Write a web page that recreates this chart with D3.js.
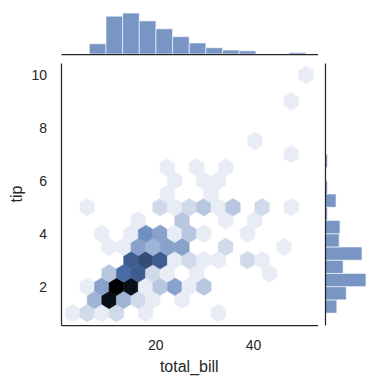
<!DOCTYPE html>
<html><head><meta charset="utf-8">
<script src="https://cdn.jsdelivr.net/npm/d3@7"></script>
<style>
html,body{margin:0;padding:0;background:#fff;}
svg{display:block;font-family:"Liberation Sans",Arial,sans-serif;}
</style></head><body>
<svg id="chart" width="379" height="384"></svg>
<script>
// ---- data ----
const xLabel = "total_bill";
const yLabel = "tip";
const xTicks = [20, 40];
const yTicks = [2, 4, 6, 8, 10];
const billExtent = [3.07, 50.81];
const tipExtent = [1, 10];
const hexGridX = 16, hexGridY = 9;
// marginal histogram of total_bill (14 bins over billExtent)
const billHistCounts = [0, 13, 48, 52, 42, 32, 22, 14, 8, 5, 4, 0, 0, 2];
// marginal histogram of tip (bins of 0.5 from 1 to 10)
const tipBinWidth = 0.5;
const tipHistCounts = [15, 27, 52, 23, 47, 18, 19, 3, 14, 3, 0, 3, 0, 0, 0, 0, 0, 0];
// hexbin cells: grid column (x.5 = offset lattice), tip row, count
const hexCol = [
  0, 1, 2, 3, 5, 10,
  1.5, 2.5, 3.5, 4.5, 5.5, 7.5,
  1, 2, 3, 4, 5, 6, 7, 8, 9,
  2.5, 3.5, 4.5, 5.5, 6.5, 8.5, 13.5,
  4, 5, 6, 7, 8, 9, 10, 12, 13,
  2.5, 3.5, 4.5, 5.5, 6.5, 7.5, 10.5, 14.5,
  2, 4, 5, 6, 7, 8, 9, 12,
  4.5, 7.5, 10.5, 12.5,
  1, 6, 7, 8, 9, 10, 11, 13, 15,
  6.5, 9.5,
  7, 9, 10,
  6.5, 8.5, 10.5,
  15, 12.5, 15, 16
];
const hexTip = [
  1, 1, 1, 1, 1, 1,
  1.5, 1.5, 1.5, 1.5, 1.5, 1.5,
  2, 2, 2, 2, 2, 2, 2, 2, 2,
  2.5, 2.5, 2.5, 2.5, 2.5, 2.5, 2.5,
  3, 3, 3, 3, 3, 3, 3, 3, 3,
  3.5, 3.5, 3.5, 3.5, 3.5, 3.5, 3.5, 3.5,
  4, 4, 4, 4, 4, 4, 4, 4,
  4.5, 4.5, 4.5, 4.5,
  5, 5, 5, 5, 5, 5, 5, 5, 5,
  5.5, 5.5,
  6, 6, 6,
  6.5, 6.5, 6.5,
  7, 7.5, 9, 10
];
const hexCount = [
  1, 2, 1, 2, 1, 1,
  4, 14, 4, 2, 1, 1,
  1, 5, 15, 14, 1, 3, 5, 1, 3,
  3, 8, 9, 2, 1, 1, 1,
  9, 10, 9, 1, 2, 1, 1, 2, 1,
  1, 1, 5, 4, 5, 5, 2, 1,
  1, 1, 6, 5, 1, 3, 1, 1,
  1, 3, 1, 1,
  1, 2, 1, 2, 3, 1, 3, 2, 1,
  1, 1,
  1, 1, 1,
  1, 1, 1,
  1, 1, 1, 1
];

// ---- layout ----
const main = {left: 61, right: 317.5, top: 63, bottom: 325};
const margTop = {top: 2, bottom: 54};
const margRight = {left: 325, right: 377};
const ink = "#262626";
const barFill = "#4c72b0";

const svg = d3.select("#chart");

const pad = f => (billExtent[1] - billExtent[0]) * f;
const x = d3.scaleLinear()
  .domain([billExtent[0] - pad(0.05), billExtent[1] + pad(0.05)])
  .range([main.left, main.right]);
const tpad = (tipExtent[1] - tipExtent[0]) * 0.05;
const y = d3.scaleLinear()
  .domain([tipExtent[0] - tpad, tipExtent[1] + tpad])
  .range([main.bottom, main.top]);

// hexbin geometry (matplotlib style pointy hexagons)
const sx = (billExtent[1] - billExtent[0]) / hexGridX;
const sy = (tipExtent[1] - tipExtent[0]) / hexGridY;
const hexOffsets = [[.5, -.5], [.5, .5], [0, 1], [-.5, .5], [-.5, -.5], [0, -1]];
const maxCount = d3.max(hexCount);
const stops = d3.range(12).map(k => d3.hsl(217, 0.397, 1 - k / 11).formatRgb());
const cmap = d3.piecewise(d3.interpolateRgb, stops);

const hexes = hexCol.map((c, i) => ({col: c, tip: hexTip[i], n: hexCount[i]}));
svg.append("g").selectAll("path").data(hexes).join("path")
  .attr("d", d => {
    const cx = billExtent[0] + d.col * sx, cy = d.tip;
    return "M" + hexOffsets.map(o => [x(cx + o[0] * sx), y(cy + o[1] * sy / 3)].join(",")).join("L") + "Z";
  })
  .attr("fill", d => cmap(d.n / maxCount))
  .attr("stroke", d => cmap(d.n / maxCount))
  .attr("stroke-width", 0.5);

// top marginal histogram
const nb = billHistCounts.length;
const bw = (billExtent[1] - billExtent[0]) / nb;
const histMax = 66;
const yTop = d3.scaleLinear().domain([0, histMax]).range([margTop.bottom, margTop.top]);
svg.append("g").selectAll("rect").data(billHistCounts).join("rect")
  .attr("x", (d, i) => x(billExtent[0] + i * bw))
  .attr("width", (d, i) => x(billExtent[0] + (i + 1) * bw) - x(billExtent[0] + i * bw))
  .attr("y", d => yTop(d))
  .attr("height", d => yTop(0) - yTop(d))
  .attr("fill", barFill).attr("fill-opacity", 0.75)
  .attr("stroke", "#fff").attr("stroke-opacity", 0.6).attr("stroke-width", 1)
  .style("display", d => d > 0 ? null : "none");

// right marginal histogram
const xRight = d3.scaleLinear().domain([0, histMax]).range([margRight.left, margRight.right]);
svg.append("g").selectAll("rect").data(tipHistCounts).join("rect")
  .attr("y", (d, i) => y(tipExtent[0] + (i + 1) * tipBinWidth))
  .attr("height", (d, i) => y(tipExtent[0] + i * tipBinWidth) - y(tipExtent[0] + (i + 1) * tipBinWidth))
  .attr("x", xRight(0))
  .attr("width", d => xRight(d) - xRight(0))
  .attr("fill", barFill).attr("fill-opacity", 0.75)
  .attr("stroke", "#fff").attr("stroke-opacity", 0.6).attr("stroke-width", 1)
  .style("display", d => d > 0 ? null : "none");

// axes
function styleAxis(g) {
  g.select(".domain").attr("stroke", ink).attr("stroke-width", 1.25);
  g.selectAll("text").attr("fill", ink).style("font-size", "14px")
    .style("font-family", "'Liberation Sans', Arial, sans-serif");
}
svg.append("g").attr("transform", `translate(0,${main.bottom})`)
  .call(d3.axisBottom(x).tickValues(xTicks).tickSize(0).tickPadding(15).tickFormat(d3.format("d")))
  .call(styleAxis);
svg.append("g").attr("transform", `translate(${main.left},0)`)
  .call(d3.axisLeft(y).tickValues(yTicks).tickSize(0).tickPadding(14).tickFormat(d3.format("d")))
  .call(styleAxis);
// marginal spines
svg.append("g").attr("transform", `translate(0,${margTop.bottom})`)
  .call(d3.axisBottom(x).tickValues([]).tickSize(0)).call(styleAxis);
svg.append("g").attr("transform", `translate(${margRight.left},0)`)
  .call(d3.axisLeft(y).tickValues([]).tickSize(0)).call(styleAxis);

// axis labels
svg.append("text").attr("x", (main.left + main.right) / 2).attr("y", 372)
  .attr("text-anchor", "middle").attr("fill", ink).style("font-size", "16px").text(xLabel);
svg.append("text").attr("transform", `translate(22,${(main.top + main.bottom) / 2}) rotate(-90)`)
  .attr("text-anchor", "middle").attr("fill", ink).style("font-size", "16px").text(yLabel);
</script>
</body></html>
